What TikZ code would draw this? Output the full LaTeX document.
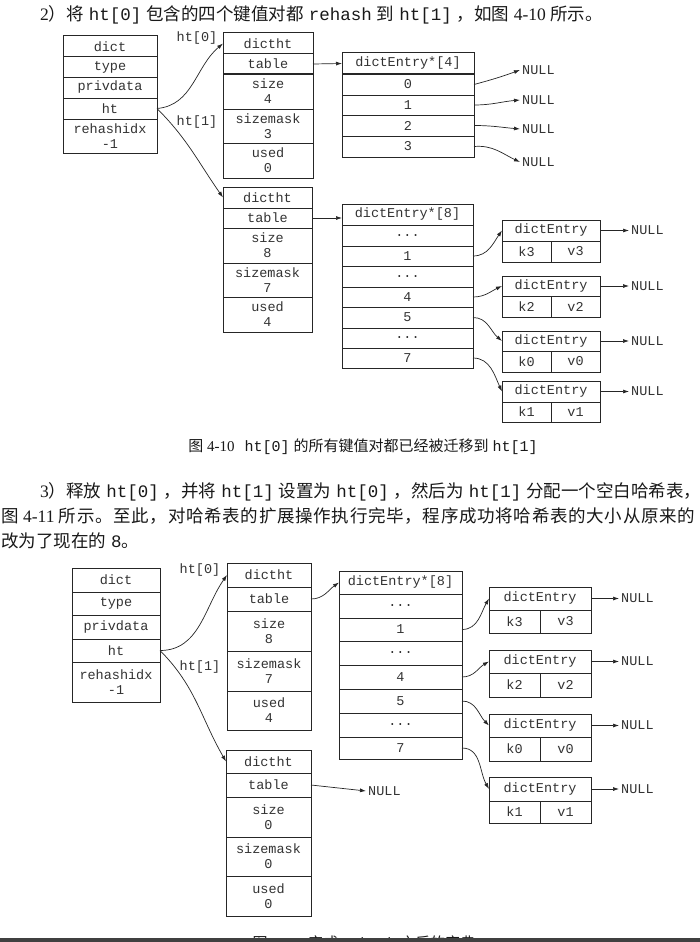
\documentclass[tikz,border=0pt]{standalone}
\usepackage{fontspec}
\setmainfont{Liberation Serif}
\newfontfamily\cjk{Noto Sans CJK SC}
\newfontfamily\cjkwide[LetterSpace=4]{Noto Sans CJK SC}
\newfontfamily\mono{Liberation Mono}
\usetikzlibrary{arrows.meta}
\newcommand\figfont{\mono\fontsize{13.5}{15}\selectfont}
\newcommand\bodyfont{\fontsize{17.5}{21}\selectfont}
\newcommand\capfont{\fontsize{15}{17}\selectfont}
\newcommand\cd[1]{\hspace{5pt}{\mono #1}\hspace{5pt}}
\newcommand\cellbox[6]{%
  \node[cell, minimum width={(#4-#2)*1pt}, minimum height={(#5-#3)*1pt}] (#1) at ({(#2+#4)/2},{(#3+#5)/2}) {#6};}
\newcommand\entrybox[9]{%
  \cellbox{#1}{#2}{#5}{#3}{#6}{dictEntry}%
  \cellbox{#1k}{#2}{#6}{#4}{#7}{#8}%
  \cellbox{#1v}{#4}{#6}{#3}{#7}{#9}}
\tikzset{
  cell/.style={draw=black!85, line width=1pt, inner sep=0pt, outer sep=0pt, align=center, font=\figfont, text=black!80},
  lbl/.style={font=\figfont, text=black!80, inner sep=0pt},
  nul/.style={font=\figfont, text=black!80, inner sep=2pt, anchor=west},
  arr/.style={-{Latex[length=6pt,width=4pt]}, line width=0.7pt, draw=black!85},
  body/.style={font=\bodyfont, text=black!90, inner sep=0pt, anchor=base west},
}
\begin{document}
\begin{tikzpicture}[x=1pt,y=-1pt]
\useasboundingbox (0,0) rectangle (700,942);
\fill[white] (0,0) rectangle (700,942);

% ---------- text ----------
\node[body] (p2) at (40,21) {2{\cjk ）将}\cd{ht[0]}{\cjk 包含的四个键值对都}\cd{rehash}{\cjk 到}\cd{ht[1]}{\cjk ，如图} 4-10 {\cjk 所示。}};

% ---------- figure 4-10 ----------
\cellbox{Adict}{63}{36}{157}{57}{dict}
\cellbox{Atype}{63}{57}{157}{77}{type}
\cellbox{Apriv}{63}{77}{157}{98}{privdata}
\cellbox{Aht}{63}{98}{157}{119}{ht}
\cellbox{Arehash}{63}{119}{157}{153}{rehashidx\\-1}
\node[lbl] (Alab0) at (197,38) {ht[0]};
\node[lbl] (Alab1) at (197,122) {ht[1]};

\cellbox{Ah0hdr}{223}{33}{313}{54}{dictht}
\cellbox{Ah0tab}{223}{54}{313}{74}{table}
\cellbox{Ah0size}{223}{74}{313}{109}{size\\4}
\cellbox{Ah0mask}{223}{109}{313}{143}{sizemask\\3}
\cellbox{Ah0used}{223}{143}{313}{178}{used\\0}

\cellbox{Ad4hdr}{342}{53}{474}{74}{dictEntry*[4]}
\cellbox{Ad4r0}{342}{74}{474}{95}{0}
\cellbox{Ad4r1}{342}{95}{474}{115}{1}
\cellbox{Ad4r2}{342}{115}{474}{136}{2}
\cellbox{Ad4r3}{342}{136}{474}{157}{3}
\node[nul] (An0) at (520,70) {NULL};
\node[nul] (An1) at (520,100) {NULL};
\node[nul] (An2) at (520,129) {NULL};
\node[nul] (An3) at (520,162) {NULL};

\cellbox{Ah1hdr}{223}{187}{312}{208}{dictht}
\cellbox{Ah1tab}{223}{208}{312}{228}{table}
\cellbox{Ah1size}{223}{228}{312}{263}{size\\8}
\cellbox{Ah1mask}{223}{263}{312}{297}{sizemask\\7}
\cellbox{Ah1used}{223}{297}{312}{332}{used\\4}

\cellbox{Ad8hdr}{342}{204}{473}{225}{dictEntry*[8]}
\cellbox{Ad8a}{342}{225}{473}{246}{...}
\cellbox{Ad8r1}{342}{246}{473}{266}{1}
\cellbox{Ad8b}{342}{266}{473}{287}{...}
\cellbox{Ad8r4}{342}{287}{473}{307}{4}
\cellbox{Ad8r5}{342}{307}{473}{328}{5}
\cellbox{Ad8c}{342}{328}{473}{348}{...}
\cellbox{Ad8r7}{342}{348}{473}{368}{7}

\entrybox{AE1}{502}{600}{551}{220}{241}{262}{k3}{v3}
\entrybox{AE2}{502}{600}{551}{276}{296}{317}{k2}{v2}
\entrybox{AE3}{502}{600}{551}{331}{351}{372}{k0}{v0}
\entrybox{AE4}{502}{600}{551}{381}{402}{422}{k1}{v1}
\foreach \i in {1,2,3,4}{\node[nul] (AEn\i) at ([xshift=29pt]AE\i.east) {NULL};}

\draw[arr] (Aht.east) to[out=5,in=220] (Ah0hdr.west);
\draw[arr] (Aht.east) to[out=-45,in=125] (Ah1hdr.west);
\draw[arr] (Ah0tab.east) -- (Ad4hdr.west);
\draw[arr] (Ad4r0.east) to[out=15,in=200] (An0.west);
\draw[arr] (Ad4r1.east) to[out=0,in=185] (An1.west);
\draw[arr] (Ad4r2.east) to[out=0,in=175] (An2.west);
\draw[arr] (Ad4r3.east) to[out=5,in=155] (An3.west);
\draw[arr] (Ah1tab.east) -- (Ad8hdr.west |- Ah1tab.east);
\draw[arr] (Ad8r1.east) to[out=0,in=235] (AE1.west);
\draw[arr] (Ad8r4.east) to[out=0,in=205] (AE2.west);
\draw[arr] (Ad8r5.east) to[out=0,in=140] (AE3.west);
\draw[arr] (Ad8r7.east) to[out=0,in=115] (AE4.west);
\foreach \i in {1,2,3,4}{\draw[arr] (AE\i.east) -- (AEn\i.west);}

\node[font=\capfont, text=black!90, inner sep=0pt, anchor=base] (cap1) at (363,451) {{\cjk 图} 4-10\hspace{10pt}{\mono ht[0]}\hspace{4pt}{\cjk 的所有键值对都已经被迁移到}\hspace{4pt}{\mono ht[1]}};

% ---------- paragraph 3 ----------
\node[body] (p3a) at (40,497) {3{\cjk ）释放}\cd{ht[0]}{\cjk ，并将}\cd{ht[1]}{\cjk 设置为}\cd{ht[0]}{\cjk ，然后为}\cd{ht[1]}{\cjk 分配一个空白哈希表，}};
\node[body] (p3b) at (1,522) {{\cjkwide 图} 4-11 {\cjkwide 所示。至此，对哈希表的扩展操作执行完毕，程序成功将哈希表的大小从原来的}};
\node[body] (p3c) at (1,547) {{\cjk 改为了现在的}\hspace{5pt}{\mono 8}{\cjk 。}};

% ---------- figure 4-11 ----------
\cellbox{Bdict}{72}{568}{160}{592}{dict}
\cellbox{Btype}{72}{592}{160}{615}{type}
\cellbox{Bpriv}{72}{615}{160}{639}{privdata}
\cellbox{Bht}{72}{639}{160}{662}{ht}
\cellbox{Brehash}{72}{662}{160}{702}{rehashidx\\-1}
\node[lbl] (Blab0) at (200,570) {ht[0]};
\node[lbl] (Blab1) at (200,667) {ht[1]};

\cellbox{Bh0hdr}{227}{563}{311}{587}{dictht}
\cellbox{Bh0tab}{227}{587}{311}{611}{table}
\cellbox{Bh0size}{227}{611}{311}{651}{size\\8}
\cellbox{Bh0mask}{227}{651}{311}{691}{sizemask\\7}
\cellbox{Bh0used}{227}{691}{311}{730}{used\\4}

\cellbox{Bd8hdr}{339}{571}{462}{594}{dictEntry*[8]}
\cellbox{Bd8a}{339}{594}{462}{618}{...}
\cellbox{Bd8r1}{339}{618}{462}{641}{1}
\cellbox{Bd8b}{339}{641}{462}{665}{...}
\cellbox{Bd8r4}{339}{665}{462}{689}{4}
\cellbox{Bd8r5}{339}{689}{462}{713}{5}
\cellbox{Bd8c}{339}{713}{462}{737}{...}
\cellbox{Bd8r7}{339}{737}{462}{759}{7}

\entrybox{BE1}{489}{591}{540}{587}{610}{633}{k3}{v3}
\entrybox{BE2}{489}{591}{540}{650}{673}{697}{k2}{v2}
\entrybox{BE3}{489}{591}{540}{714}{737}{761}{k0}{v0}
\entrybox{BE4}{489}{591}{540}{777}{801}{823}{k1}{v1}
\foreach \i in {1,2,3,4}{\node[nul] (BEn\i) at ([xshift=28pt]BE\i.east) {NULL};}

\cellbox{Bh1hdr}{226}{750}{311}{773}{dictht}
\cellbox{Bh1tab}{226}{773}{311}{797}{table}
\cellbox{Bh1size}{226}{797}{311}{837}{size\\0}
\cellbox{Bh1mask}{226}{837}{311}{876}{sizemask\\0}
\cellbox{Bh1used}{226}{876}{311}{916}{used\\0}
\node[nul] (Bn1) at (366,791) {NULL};

\draw[arr] (Bht.east) to[out=0,in=235] (Bh0hdr.west);
\draw[arr] (Bht.east) to[out=-45,in=120] (Bh1hdr.west);
\draw[arr] (Bh0tab.east) to[out=0,in=215] (Bd8hdr.west);
\draw[arr] (Bd8r1.east) to[out=0,in=240] (BE1.west);
\draw[arr] (Bd8r4.east) to[out=0,in=210] (BE2.west);
\draw[arr] (Bd8r5.east) to[out=0,in=135] (BE3.west);
\draw[arr] (Bd8r7.east) to[out=0,in=120] (BE4.west);
\foreach \i in {1,2,3,4}{\draw[arr] (BE\i.east) -- (BEn\i.west);}
\draw[arr] (Bh1tab.east) -- (Bn1.west);

% ---------- cut-off caption and bottom edge ----------
\begin{scope}
\clip (0,0) rectangle (700,938);
\node[font=\capfont, text=black!90, inner sep=0pt, anchor=base] (cap2) at (364,948) {{\cjk 图} 4-11\hspace{10pt}{\cjk 完成}\hspace{4pt}{\mono rehash}\hspace{4pt}{\cjk 之后的字典}};
\end{scope}
\fill[black!75] (0,938) rectangle (700,942);
\end{tikzpicture}
\end{document}
